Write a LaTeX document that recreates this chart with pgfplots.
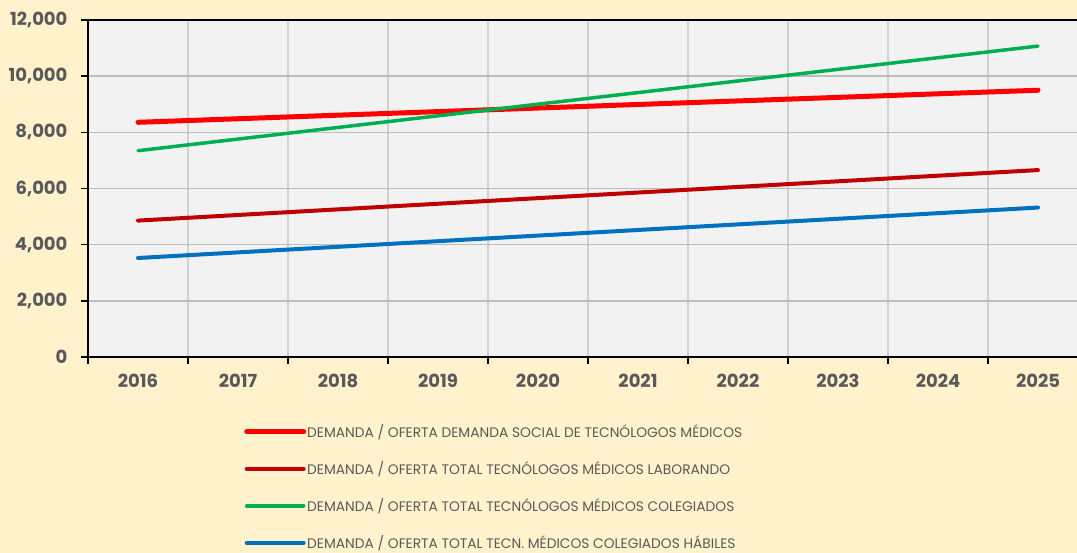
\documentclass[border=0pt]{standalone}
\usepackage{pgfplots}
\pgfplotsset{compat=1.18}
\usepackage{fontspec}
\setmainfont{Poppins}
\definecolor{bg}{HTML}{FFF2CC}
\definecolor{plotbg}{HTML}{F2F2F2}
\definecolor{txt}{HTML}{595959}
\definecolor{cred}{HTML}{FF0000}
\definecolor{cdred}{HTML}{C00000}
\definecolor{cgreen}{HTML}{00B050}
\definecolor{cblue}{HTML}{0070C0}
\begin{document}
\begin{tikzpicture}
\fill[bg] (-88pt,-196pt) rectangle (989pt,357pt);
\begin{axis}[
  at={(0pt,0pt)}, anchor=south west,
  scale only axis, width=1000pt, height=337pt,
  xmin=2015.5, xmax=2025.5, ymin=0, ymax=12000,
  axis background/.style={fill=plotbg},
  axis line style={black, line width=1.6pt},
  tick align=outside, major tick length=7pt,
  tick style={black, line width=1.6pt},
  xtick pos=bottom, ytick pos=left,
  xtick={2015.5,2016.5,...,2025.5}, xticklabels={},
  extra x ticks={2016,2017,2018,2019,2020,2021,2022,2023,2024,2025},
  extra x tick labels={2016,2017,2018,2019,2020,2021,2022,2023,2024,2025},
  extra x tick style={grid=none, major tick length=0pt},
  ytick={0,2000,...,12000},
  scaled y ticks=false,
  xmajorgrids, ymajorgrids,
  x grid style={draw=black!18, line width=1.5pt},
  y grid style={draw=black!26, line width=1.5pt},
  /pgf/number format/assume math mode=true,
  ticklabel style={font=\fontsize{18}{20}\selectfont\bfseries, text=txt},
  xticklabel style={yshift=-14pt},
  yticklabel style={xshift=-10pt, /pgf/number format/fixed, /pgf/number format/precision=0, /pgf/number format/1000 sep={,}},
  legend style={draw=none, fill=none, at={(0.153,-0.191)}, anchor=north west,
    font=\fontsize{13.8}{16}\selectfont, text=txt, row sep=20.5pt,
    nodes={inner sep=1pt}},
  legend cell align=left,
  legend image code/.code={\draw[#1, line cap=round] (0pt,0pt) -- (57pt,0pt);},
]
\addplot[cred, line width=5pt, line cap=round] coordinates {(2016,8357)(2017,8484)(2018,8611)(2019,8738)(2020,8865)(2021,8992)(2022,9118)(2023,9245)(2024,9372)(2025,9499)};
\addlegendentry{DEMANDA / OFERTA DEMANDA SOCIAL DE TECNÓLOGOS MÉDICOS}
\addplot[cdred, line width=4pt, line cap=round] coordinates {(2016,4857)(2017,5057)(2018,5257)(2019,5457)(2020,5657)(2021,5856)(2022,6056)(2023,6256)(2024,6456)(2025,6656)};
\addlegendentry{DEMANDA / OFERTA TOTAL TECNÓLOGOS MÉDICOS LABORANDO}
\addplot[cgreen, line width=3.5pt, line cap=round] coordinates {(2016,7346)(2017,7760)(2018,8174)(2019,8588)(2020,9002)(2021,9415)(2022,9829)(2023,10243)(2024,10657)(2025,11071)};
\addlegendentry{DEMANDA / OFERTA TOTAL TECNÓLOGOS MÉDICOS COLEGIADOS}
\addplot[cblue, line width=4pt, line cap=round] coordinates {(2016,3525)(2017,3725)(2018,3924)(2019,4124)(2020,4323)(2021,4523)(2022,4722)(2023,4922)(2024,5121)(2025,5321)};
\addlegendentry{DEMANDA / OFERTA TOTAL TECN. MÉDICOS COLEGIADOS HÁBILES}
\end{axis}
\pgfresetboundingbox
\useasboundingbox (-88pt,-196pt) rectangle (989pt,357pt);
\end{tikzpicture}
\end{document}
